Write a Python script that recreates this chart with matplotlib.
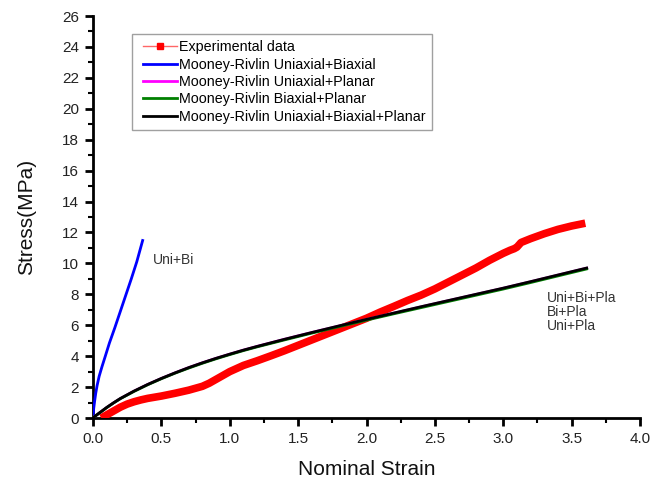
import matplotlib
matplotlib.use("Agg")
import matplotlib.pyplot as plt
from matplotlib.lines import Line2D
from matplotlib.legend_handler import HandlerLine2D
from matplotlib.ticker import MultipleLocator, FormatStrFormatter

plt.rcParams['font.family'] = ['Liberation Sans', 'DejaVu Sans']

# Experimental data
exp_strain = [0.06, 0.1, 0.15, 0.2, 0.25, 0.3, 0.35, 0.4, 0.5, 0.6, 0.7, 0.8, 0.85, 0.9,
              0.95, 1.0, 1.05, 1.1, 1.2, 1.3, 1.4, 1.5, 1.6, 1.7, 1.8, 1.9, 2.0, 2.1,
              2.2, 2.3, 2.4, 2.5, 2.6, 2.7, 2.8, 2.9, 3.0, 3.05, 3.08, 3.1, 3.13, 3.2,
              3.3, 3.4, 3.5, 3.6]
exp_stress = [0.0, 0.2, 0.45, 0.7, 0.9, 1.05, 1.17, 1.27, 1.42, 1.6, 1.8, 2.05, 2.25, 2.5,
              2.75, 3.0, 3.2, 3.4, 3.7, 4.02, 4.35, 4.7, 5.05, 5.4, 5.75, 6.1, 6.45, 6.85,
              7.22, 7.6, 7.95, 8.35, 8.8, 9.25, 9.7, 10.2, 10.65, 10.85, 10.95, 11.05, 11.35, 11.6,
              11.92, 12.2, 12.42, 12.6]

# Mooney-Rivlin Uniaxial+Biaxial
ub_strain = [0.0, 0.005, 0.012, 0.02, 0.03, 0.045, 0.065, 0.09, 0.12, 0.16, 0.2, 0.24,
             0.28, 0.32, 0.363]
ub_stress = [0.0, 0.6, 1.1, 1.6, 2.1, 2.7, 3.3, 4.0, 4.85, 5.85, 6.9, 7.95, 9.0, 10.1, 11.48]

# Mooney-Rivlin Uniaxial+Planar
up_strain = [0.0, 0.02, 0.05, 0.1, 0.15, 0.2, 0.3, 0.4, 0.5, 0.6, 0.7, 0.8, 0.9, 1.0, 1.1,
             1.2, 1.4, 1.6, 1.8, 2.0, 2.2, 2.4, 2.6, 2.8, 3.0, 3.2, 3.4, 3.61]
up_stress = [0.0, 0.15, 0.35, 0.68, 0.98, 1.26, 1.74, 2.17, 2.56, 2.92, 3.26, 3.57, 3.86,
             4.13, 4.39, 4.63, 5.09, 5.53, 5.95, 6.37, 6.78, 7.19, 7.59, 7.99, 8.39, 8.81,
             9.24, 9.69]

# Mooney-Rivlin Biaxial+Planar
bp_strain = [0.0, 0.02, 0.05, 0.1, 0.15, 0.2, 0.3, 0.4, 0.5, 0.6, 0.7, 0.8, 0.9, 1.0, 1.1,
             1.2, 1.4, 1.6, 1.8, 2.0, 2.2, 2.4, 2.6, 2.8, 3.0, 3.2, 3.4, 3.61]
bp_stress = [0.0, 0.15, 0.34, 0.67, 0.97, 1.25, 1.72, 2.15, 2.54, 2.9, 3.23, 3.54, 3.83,
             4.1, 4.36, 4.6, 5.05, 5.49, 5.91, 6.33, 6.74, 7.14, 7.54, 7.94, 8.34, 8.76,
             9.19, 9.64]

# Mooney-Rivlin Uniaxial+Biaxial+Planar
ubp_strain = [0.0, 0.02, 0.05, 0.1, 0.15, 0.2, 0.3, 0.4, 0.5, 0.6, 0.7, 0.8, 0.9, 1.0, 1.1,
              1.2, 1.4, 1.6, 1.8, 2.0, 2.2, 2.4, 2.6, 2.8, 3.0, 3.2, 3.4, 3.61]
ubp_stress = [0.0, 0.15, 0.35, 0.68, 0.98, 1.26, 1.74, 2.17, 2.56, 2.92, 3.26, 3.57, 3.86,
              4.13, 4.39, 4.63, 5.09, 5.53, 5.96, 6.38, 6.79, 7.2, 7.6, 8.0, 8.4, 8.82,
              9.25, 9.7]

legend_labels = ["Experimental data",
                 "Mooney-Rivlin Uniaxial+Biaxial",
                 "Mooney-Rivlin Uniaxial+Planar",
                 "Mooney-Rivlin Biaxial+Planar",
                 "Mooney-Rivlin Uniaxial+Biaxial+Planar"]

fig = plt.figure(figsize=(6.65, 4.84), dpi=100)
ax = fig.add_axes([93/665, 66/484, 547/665, 402/484])

ax.plot(exp_strain, exp_stress, color='#ff0000', lw=5.5, solid_capstyle='butt',
        solid_joinstyle='round', zorder=3)
ax.plot(ub_strain, ub_stress, color='#0000ff', lw=2.0, zorder=4)
ax.plot(up_strain, up_stress, color='#ff00ff', lw=2.0, zorder=4)
ax.plot(bp_strain, bp_stress, color='#008000', lw=2.0, zorder=5)
ax.plot(ubp_strain, ubp_stress, color='#000000', lw=2.0, zorder=6)

ax.set_xlim(0, 4.0)
ax.set_ylim(0, 26)
ax.xaxis.set_major_locator(MultipleLocator(0.5))
ax.xaxis.set_minor_locator(MultipleLocator(0.25))
ax.yaxis.set_major_locator(MultipleLocator(2))
ax.yaxis.set_minor_locator(MultipleLocator(1))
ax.xaxis.set_major_formatter(FormatStrFormatter('%.1f'))

for s in ['top', 'right']:
    ax.spines[s].set_visible(False)
for s in ['left', 'bottom']:
    ax.spines[s].set_linewidth(2.0)

ax.tick_params(which='major', direction='out', length=6, width=2, labelsize=11, pad=4,
               labelcolor='#222222')
ax.tick_params(which='minor', direction='out', length=3.5, width=1.5)

ax.set_xlabel("Nominal Strain", fontsize=15, labelpad=10, color='#111111')
ax.set_ylabel("Stress(MPa)", fontsize=15, labelpad=19, color='#111111')

ax.text(0.44, 10.2, "Uni+Bi", fontsize=10, color='#333333', va='center', ha='left')
ax.text(3.32, 6.85, "Uni+Bi+Pla\nBi+Pla\nUni+Pla", fontsize=10, color='#333333',
        va='center', ha='left', linespacing=0.98)

handles = [
    Line2D([], [], color='#ff6666', lw=1.0, marker='s', markersize=4,
           markerfacecolor='#ff0000', markeredgecolor='#ff0000'),
    Line2D([], [], color='#0000ff', lw=2.0),
    Line2D([], [], color='#ff00ff', lw=2.0),
    Line2D([], [], color='#008000', lw=2.0),
    Line2D([], [], color='#000000', lw=2.0),
]
hmap = {h: HandlerLine2D(xpad=0.32) for h in handles}
leg = ax.legend(handles, legend_labels, loc='upper left', bbox_to_anchor=(0.0713, 0.955),
                borderaxespad=0, fontsize=10.3, frameon=True, fancybox=False,
                handlelength=2.7, handletextpad=0.2, labelspacing=0.24, borderpad=0.42,
                handler_map=hmap)
leg.get_frame().set_edgecolor('#888888')
leg.get_frame().set_linewidth(1.0)

fig.savefig("out.png", dpi=100)
